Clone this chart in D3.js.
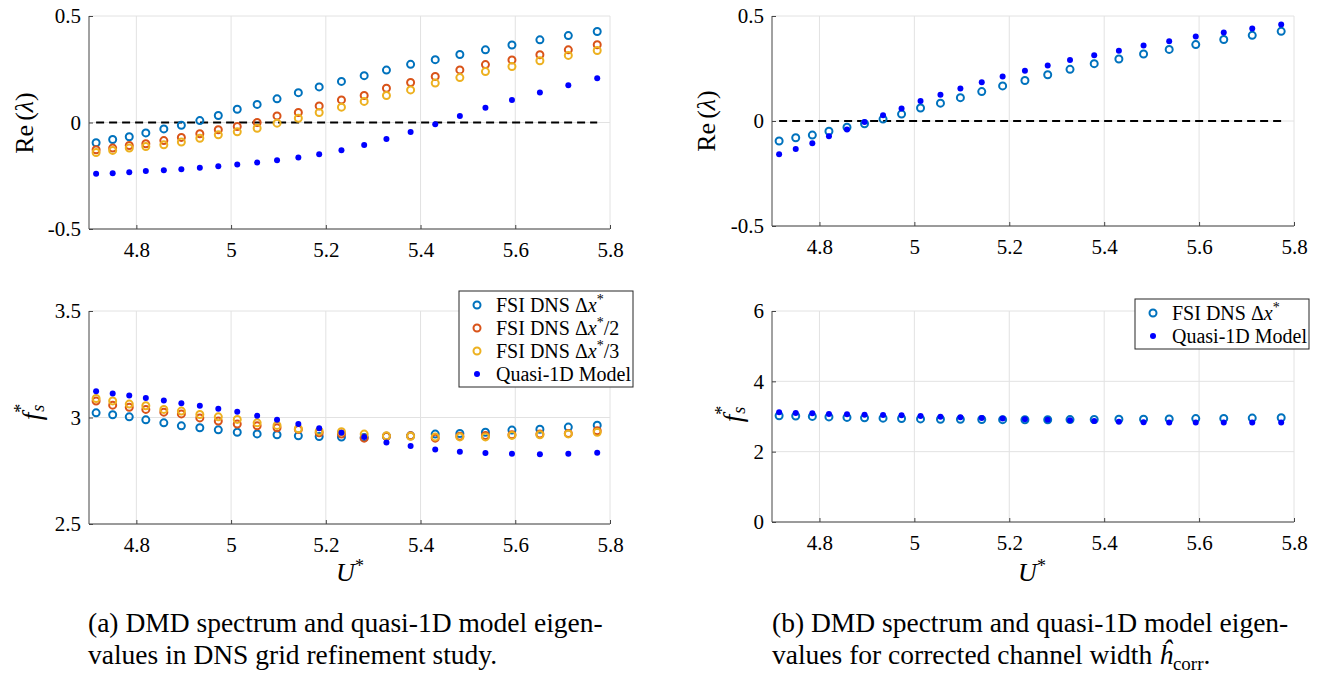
<!DOCTYPE html>
<html>
<head>
<meta charset="utf-8">
<script src="https://cdn.jsdelivr.net/npm/d3@7"></script>
<style>
  html, body { margin: 0; padding: 0; background: #fff; }
  svg { display: block; }
  text { font-family: "Liberation Serif", "DejaVu Serif", serif; fill: #000; }
</style>
</head>
<body>
<svg id="fig" width="1330" height="681"></svg>
<script>
// Reduced velocity U* at which the eigenvalues were evaluated
const uStar = [4.715, 4.750, 4.785, 4.820, 4.858, 4.895, 4.934, 4.973, 5.013, 5.055,
  5.097, 5.142, 5.186, 5.233, 5.281, 5.328, 5.379, 5.431, 5.483, 5.537,
  5.593, 5.652, 5.712, 5.773];

// Growth rate Re(lambda)
const reDns1 = [-0.095, -0.080, -0.067, -0.049, -0.030, -0.013, 0.009, 0.033, 0.062, 0.085,
  0.111, 0.140, 0.167, 0.193, 0.220, 0.246, 0.273, 0.295, 0.319, 0.341,
  0.364, 0.388, 0.408, 0.427];
const reDns2 = [-0.128, -0.120, -0.108, -0.100, -0.085, -0.070, -0.053, -0.034, -0.019, 0.000,
  0.031, 0.047, 0.078, 0.106, 0.127, 0.161, 0.188, 0.216, 0.247, 0.272,
  0.294, 0.318, 0.341, 0.365];
const reDns3 = [-0.141, -0.131, -0.120, -0.113, -0.105, -0.092, -0.074, -0.058, -0.044, -0.027,
  -0.003, 0.020, 0.047, 0.072, 0.099, 0.127, 0.153, 0.185, 0.211, 0.239,
  0.263, 0.290, 0.315, 0.338];
const reModel = [-0.241, -0.238, -0.233, -0.228, -0.224, -0.219, -0.213, -0.205, -0.197, -0.188,
  -0.177, -0.164, -0.149, -0.130, -0.106, -0.078, -0.045, -0.008, 0.031, 0.069,
  0.106, 0.141, 0.175, 0.208];
const reModelCorr = [-0.158, -0.133, -0.106, -0.073, -0.041, -0.005, 0.027, 0.060, 0.095, 0.125,
  0.155, 0.185, 0.212, 0.239, 0.264, 0.290, 0.313, 0.335, 0.359, 0.380,
  0.402, 0.422, 0.441, 0.460];

// Shedding frequency f_s*
const fDns1 = [3.022, 3.013, 3.003, 2.989, 2.975, 2.961, 2.952, 2.942, 2.931, 2.923,
  2.919, 2.914, 2.911, 2.908, 2.906, 2.912, 2.914, 2.922, 2.925, 2.931,
  2.941, 2.945, 2.955, 2.964];
const fDns2 = [3.077, 3.058, 3.048, 3.038, 3.025, 3.017, 2.998, 2.983, 2.969, 2.961,
  2.952, 2.944, 2.928, 2.922, 2.903, 2.912, 2.914, 2.903, 2.912, 2.916,
  2.919, 2.922, 2.925, 2.938];
const fDns3 = [3.089, 3.078, 3.063, 3.055, 3.038, 3.030, 3.014, 3.003, 2.991, 2.975,
  2.963, 2.947, 2.936, 2.933, 2.922, 2.914, 2.912, 2.909, 2.909, 2.909,
  2.916, 2.919, 2.923, 2.931];
const fModel = [3.123, 3.113, 3.103, 3.092, 3.080, 3.067, 3.055, 3.041, 3.027, 3.008,
  2.989, 2.970, 2.950, 2.928, 2.908, 2.883, 2.866, 2.850, 2.839, 2.833,
  2.830, 2.828, 2.830, 2.834];
const fModelCorr = [3.119, 3.100, 3.091, 3.072, 3.062, 3.053, 3.043, 3.034, 3.015, 2.996,
  2.977, 2.958, 2.940, 2.921, 2.911, 2.892, 2.873, 2.854, 2.836, 2.826,
  2.826, 2.826, 2.826, 2.826];

// Axis ticks
const xTicks = [4.8, 5, 5.2, 5.4, 5.6, 5.8];
const reTicks = [-0.5, 0, 0.5];
const fTicksA = [2.5, 3, 3.5];
const fTicksB = [0, 2, 4, 6];

const C_DNS1 = "#0072BD", C_DNS2 = "#D95319", C_DNS3 = "#EDB120", C_MODEL = "#0000FF";
const R_OPEN = 3.5, R_DOT = 3;
const SERIF = '"Liberation Serif", "DejaVu Serif", serif';

const svg = d3.select("#fig");

function fmt(v) {
  return (v < 0 ? "-" : "") + String(Math.abs(v));
}

function panel(opts) {
  const x = d3.scaleLinear().domain([4.7, 5.8]).range([opts.x0, opts.x1]);
  const y = d3.scaleLinear().domain(opts.yDomain).range([opts.y1, opts.y0]);
  const g = svg.append("g");

  // grid
  g.append("g").selectAll("line").data(xTicks).join("line")
    .attr("x1", d => x(d)).attr("x2", d => x(d))
    .attr("y1", opts.y0).attr("y2", opts.y1)
    .attr("stroke", "#e2e2e2").attr("stroke-width", 1);
  g.append("g").selectAll("line").data(opts.yTicks).join("line")
    .attr("x1", opts.x0).attr("x2", opts.x1)
    .attr("y1", d => y(d)).attr("y2", d => y(d))
    .attr("stroke", "#e2e2e2").attr("stroke-width", 1);

  // axes with inward ticks
  const xAxis = d3.axisBottom(x).tickValues(xTicks).tickSize(-4).tickPadding(13)
    .tickFormat(d => fmt(d));
  const yAxis = d3.axisLeft(y).tickValues(opts.yTicks).tickSize(-4).tickPadding(8)
    .tickFormat(d => fmt(d));
  const gx = g.append("g").attr("transform", `translate(0,${opts.y1})`).call(xAxis);
  const gy = g.append("g").attr("transform", `translate(${opts.x0},0)`).call(yAxis);
  [gx, gy].forEach(a => {
    a.attr("font-family", SERIF).attr("font-size", 21);
    a.select(".domain").attr("stroke", "#444").attr("stroke-width", 1);
    a.selectAll(".tick line").attr("stroke", "#444");
    a.selectAll(".tick text").attr("font-family", SERIF).style("font-family", SERIF)
      .style("font-size", "21px").attr("fill", "#262626");
  });
  gx.selectAll(".domain").attr("d", `M${opts.x0},0H${opts.x1}`);
  gy.selectAll(".domain").attr("d", `M0,${opts.y0}V${opts.y1}`);

  // zero reference line
  if (opts.zeroLine) {
    g.append("line")
      .attr("x1", x(uStar[0])).attr("x2", x(uStar[uStar.length - 1]))
      .attr("y1", y(0)).attr("y2", y(0))
      .attr("stroke", "#000").attr("stroke-width", 2)
      .attr("stroke-dasharray", "8,5");
  }

  const marks = g.append("g");
  opts.series.forEach(s => {
    const pts = uStar.map((u, i) => [u, s.values[i]]);
    if (s.filled) {
      marks.append("g").selectAll("circle").data(pts).join("circle")
        .attr("cx", d => x(d[0])).attr("cy", d => y(d[1])).attr("r", R_DOT)
        .attr("fill", s.color);
    } else {
      marks.append("g").selectAll("circle").data(pts).join("circle")
        .attr("cx", d => x(d[0])).attr("cy", d => y(d[1])).attr("r", R_OPEN)
        .attr("fill", "none").attr("stroke", s.color).attr("stroke-width", 2);
    }
  });
  return { x, y, g };
}

function yLabelRe(cx, cy) {
  const t = svg.append("text")
    .attr("transform", `translate(${cx},${cy}) rotate(-90)`)
    .attr("text-anchor", "middle").attr("dominant-baseline", "central")
    .style("font-size", "26px");
  t.append("tspan").text("Re");
  t.append("tspan").attr("dx", 4).text("(");
  t.append("tspan").style("font-style", "italic").text("λ");
  t.append("tspan").text(")");
}

function yLabelF(cx, cy) {
  const t = svg.append("text")
    .attr("transform", `translate(${cx},${cy}) rotate(-90)`)
    .attr("text-anchor", "middle").attr("dominant-baseline", "central")
    .style("font-size", "27px");
  t.append("tspan").style("font-style", "italic").text("f");
  t.append("tspan").attr("dy", 6).attr("dx", 1).style("font-size", "18px")
    .style("font-style", "italic").text("s");
  t.append("tspan").attr("dy", -17).attr("dx", -8).style("font-size", "18px").text("*");
}

function xLabel(cx, cy) {
  const t = svg.append("text").attr("x", cx).attr("y", cy)
    .attr("text-anchor", "middle").style("font-size", "26px");
  t.append("tspan").style("font-style", "italic").text("U");
  t.append("tspan").attr("dy", -9).style("font-size", "18px").text("*");
}

function legend(x0, y0, w, rowH, entries) {
  const h = entries.length * rowH + 4;
  const lg = svg.append("g");
  lg.append("rect").attr("x", x0).attr("y", y0).attr("width", w).attr("height", h)
    .attr("fill", "#fff").attr("stroke", "#262626").attr("stroke-width", 1);
  entries.forEach((e, i) => {
    const cy = y0 + 14 + i * rowH;
    if (e.filled) {
      lg.append("circle").attr("cx", x0 + 18).attr("cy", cy).attr("r", R_DOT).attr("fill", e.color);
    } else {
      lg.append("circle").attr("cx", x0 + 18).attr("cy", cy).attr("r", R_OPEN)
        .attr("fill", "none").attr("stroke", e.color).attr("stroke-width", 2);
    }
    const t = lg.append("text").attr("x", x0 + 37).attr("y", cy + 7)
      .style("font-size", "20px");
    if (e.model) {
      t.text("Quasi-1D Model");
    } else {
      t.append("tspan").text("FSI DNS Δ");
      t.append("tspan").style("font-style", "italic").text("x");
      t.append("tspan").attr("dy", -8).style("font-size", "14px").text("*");
      if (e.div) t.append("tspan").attr("dy", 8).text("/" + e.div);
    }
  });
}

// (a) grid refinement study
panel({ x0: 89, x1: 610, y0: 16, y1: 229, yDomain: [-0.5, 0.5], yTicks: reTicks, zeroLine: true,
  series: [
    { values: reDns1, color: C_DNS1 },
    { values: reDns2, color: C_DNS2 },
    { values: reDns3, color: C_DNS3 },
    { values: reModel, color: C_MODEL, filled: true }
  ] });
panel({ x0: 89, x1: 610, y0: 311, y1: 524, yDomain: [2.5, 3.5], yTicks: fTicksA,
  series: [
    { values: fDns1, color: C_DNS1 },
    { values: fDns2, color: C_DNS2 },
    { values: fDns3, color: C_DNS3 },
    { values: fModel, color: C_MODEL, filled: true }
  ] });

// (b) corrected channel width
panel({ x0: 772, x1: 1294, y0: 16, y1: 226, yDomain: [-0.5, 0.5], yTicks: reTicks, zeroLine: true,
  series: [
    { values: reDns1, color: C_DNS1 },
    { values: reModelCorr, color: C_MODEL, filled: true }
  ] });
panel({ x0: 772, x1: 1294, y0: 311, y1: 522, yDomain: [0, 6], yTicks: fTicksB,
  series: [
    { values: fDns1, color: C_DNS1 },
    { values: fModelCorr, color: C_MODEL, filled: true }
  ] });

yLabelRe(24, 123);
yLabelF(32, 412);
yLabelRe(706, 121);
yLabelF(733, 414);
xLabel(350, 581);
xLabel(1032, 581);

legend(459, 291, 174, 23, [
  { color: C_DNS1 },
  { color: C_DNS2, div: 2 },
  { color: C_DNS3, div: 3 },
  { color: C_MODEL, filled: true, model: true }
]);
legend(1135, 299, 174, 23, [
  { color: C_DNS1 },
  { color: C_MODEL, filled: true, model: true }
]);

// captions
function caption(x0, lines) {
  lines.forEach((ln, i) => {
    const t = svg.append("text").attr("x", x0).attr("y", 632 + i * 32).style("font-size", "27.5px");
    ln(t);
  });
}
caption(88, [
  t => t.text("(a) DMD spectrum and quasi-1D model eigen-"),
  t => t.text("values in DNS grid refinement study.")
]);
caption(772, [
  t => t.text("(b) DMD spectrum and quasi-1D model eigen-"),
  t => {
    t.append("tspan").text("values for corrected channel width ");
    t.append("tspan").style("font-style", "italic").text("ĥ");
    t.append("tspan").attr("dy", 6).style("font-size", "19px").text("corr");
    t.append("tspan").attr("dy", -6).text(".");
  }
]);
</script>
</body>
</html>
